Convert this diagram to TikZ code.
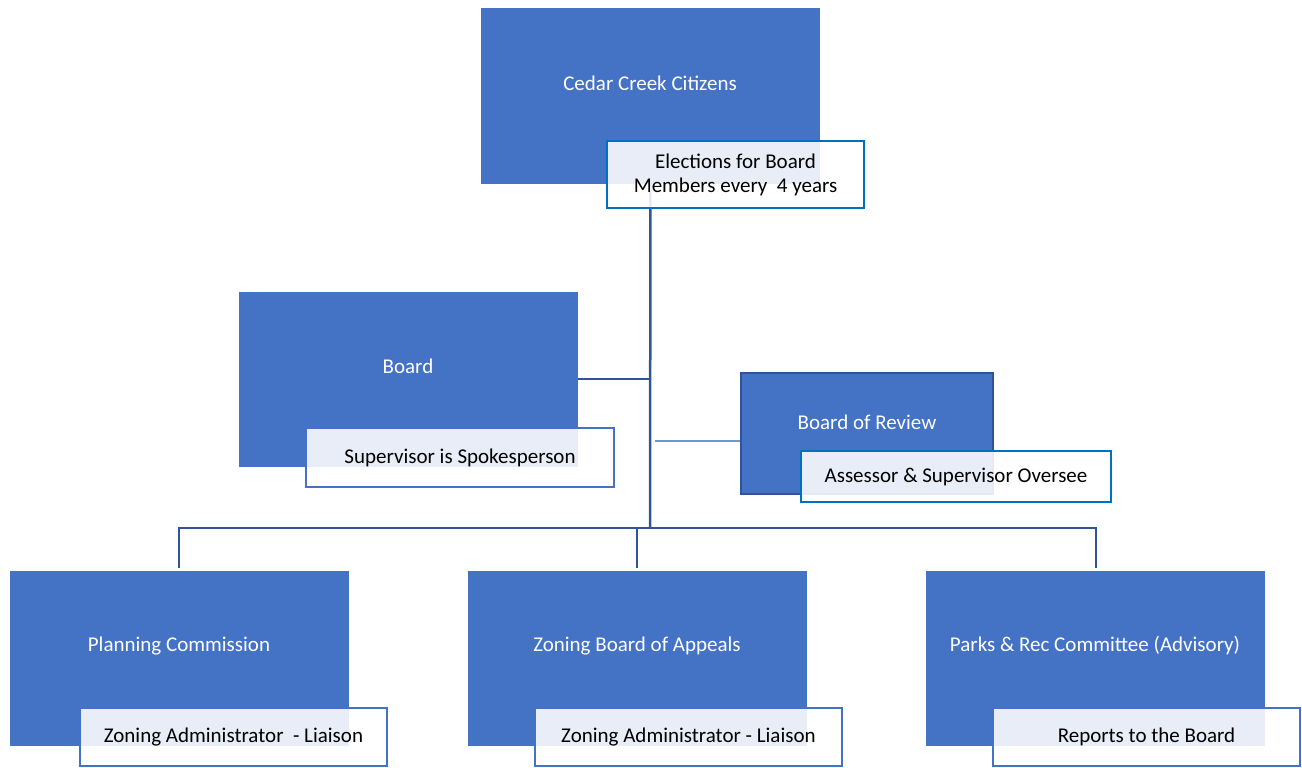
\documentclass[tikz,border=0pt]{standalone}
\usepackage{fontspec}
\setmainfont{Carlito}
\usepackage{tikz}

\definecolor{unitblue}{HTML}{4472C4}
\definecolor{linkblue}{HTML}{2F5597}
\definecolor{tagblue}{HTML}{0070C0}
\definecolor{thinblue}{HTML}{6F93D3}

\begin{document}
\begin{tikzpicture}[x=1pt,y=-1pt,
	unit/.style={draw=unitblue,fill=unitblue,line width=1pt,minimum width=338pt,minimum height=174pt,inner sep=0pt},
	unittext/.style={text=white,font=\fontsize{21}{24}\selectfont,inner sep=0pt},
	tag/.style={draw=#1,line width=2pt,fill=white,fill opacity=0.88,text opacity=1,font=\fontsize{21}{24}\selectfont,align=center,inner sep=0pt},
	tag/.default=unitblue,
	link/.style={draw=linkblue,line width=2.5pt},
	thinlink/.style={draw=thinblue,line width=1.2pt}]
		\useasboundingbox (0,0) rectangle (1302,768);

		\node[unit] (cit) at (650.5,96) {};
		\node[unittext] (citt) at (650,83) {Cedar Creek Citizens};
		\node[unit] (board) at (408.5,379) {};
		\node[unittext] (boardt) at (408,366) {Board};
		\node[unit,draw=linkblue,line width=2pt,minimum width=252pt,minimum height=121pt] (bor) at (867,433.5) {};
		\node[unittext] (bort) at (867,422) {Board of Review};
		\node[unit] (plan) at (179,658) {};
		\node[unittext] (plant) at (179,646) {Planning Commission};
		\node[unit] (zon) at (637,658) {};
		\node[unittext] (zont) at (637,646) {Zoning Board of Appeals};
		\node[unit] (park) at (1095.5,658) {};
		\node[unittext] (parkt) at (1095,646) {Parks \& Rec Committee (Advisory)};

		\coordinate (bus) at (650,528);
		\coordinate (borl) at (655,441);

		\draw[link] (cit.south) -- (bus);
		\draw[link] (board.east) -- (board.east -| bus);
		\draw[thinlink] (borl) -- (borl -| bor.west);
		\draw[link,line width=2pt] ([yshift=3pt]plan.north) |- (bus) -| ([yshift=3pt]park.north);
		\draw[link,line width=2pt] ([yshift=3pt]zon.north) -- (zon.north |- bus);

		\node[tag=tagblue,minimum width=257pt,minimum height=67pt] (elec) at (735.5,174.5) {Elections for Board\\Members every~~4 years};
		\node[tag,minimum width=308pt,minimum height=59pt] (boardtag) at (460,457.5) {Supervisor is Spokesperson};
		\node[tag=tagblue,minimum width=310pt,minimum height=51pt] (bortag) at (956,476.5) {Assessor \& Supervisor Oversee};
		\node[tag,minimum width=307pt,minimum height=58pt] (plantag) at (233.5,737) {Zoning Administrator~~- Liaison};
		\node[tag,minimum width=307pt,minimum height=58pt] (zontag) at (688.5,737) {Zoning Administrator - Liaison};
		\node[tag,minimum width=307pt,minimum height=58pt] (parktag) at (1146.5,737) {Reports to the Board};

	\end{tikzpicture}
\end{document}
